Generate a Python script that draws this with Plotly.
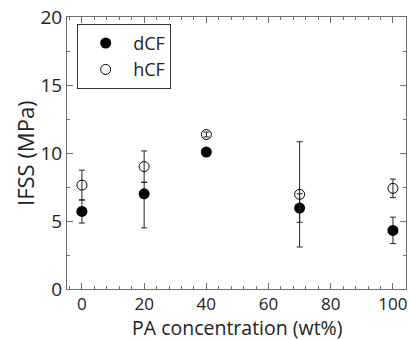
import plotly.graph_objects as go

x_conc = [0, 20, 40, 70, 100]
dcf_mean = [5.7, 7.0, 10.07, 5.95, 4.31]
dcf_err_plus = [0.85, 0.85, 0.12, 1.05, 0.97]
dcf_err_minus = [0.85, 2.5, 0.12, 1.05, 0.97]
hcf_mean = [7.64, 9.0, 11.36, 6.96, 7.40]
hcf_err = [1.1, 1.15, 0.18, 3.87, 0.68]

x_title = "PA concentration (wt%)"
y_title = "IFSS (MPa)"

font_family = "Open Sans, Noto Sans, sans-serif"
axis_col = "#6e6e6e"

fig = go.Figure()
fig.add_trace(go.Scatter(
    x=x_conc, y=dcf_mean, mode="markers", name="dCF",
    marker=dict(symbol="circle", size=11, color="black", line=dict(width=0)),
    error_y=dict(type="data", symmetric=False, array=dcf_err_plus,
                 arrayminus=dcf_err_minus, color="#222", thickness=1, width=3),
))
fig.add_trace(go.Scatter(
    x=x_conc, y=hcf_mean, mode="markers", name="hCF",
    marker=dict(symbol="circle-open", size=10, color="black", line=dict(width=1)),
    error_y=dict(type="data", array=hcf_err, color="#222", thickness=1, width=3),
))

fig.update_layout(
    width=410, height=340,
    margin=dict(l=67, r=4, t=17, b=51),
    paper_bgcolor="white", plot_bgcolor="white",
    font=dict(family=font_family, color="#222", size=18),
    showlegend=True,
    legend=dict(x=0.03, y=0.975, xanchor="left", yanchor="top",
                bordercolor="#333", borderwidth=1, bgcolor="white",
                font=dict(size=18, color="#222"), itemwidth=45,
                tracegroupgap=2),
    annotations=[
        dict(text=x_title, xref="paper", yref="paper", x=0.5, y=-0.14,
             xanchor="center", yanchor="middle", showarrow=False, borderpad=0,
             font=dict(size=19.5, color="#222")),
        dict(text=y_title, xref="paper", yref="paper", x=-0.124, y=0.5,
             xanchor="center", yanchor="middle", showarrow=False, textangle=-90,
             font=dict(size=22, color="#222")),
    ],
)
fig.update_xaxes(
    range=[-4.8, 104.2], tickvals=[0, 20, 40, 60, 80, 100],
    showgrid=False, zeroline=False, automargin=False,
    showline=True, linecolor=axis_col, linewidth=1, mirror="ticks",
    ticks="inside", ticklen=6, tickcolor=axis_col, tickwidth=1,
    minor=dict(dtick=4, tick0=0, ticks="inside", ticklen=3, tickcolor=axis_col, showgrid=False),
    tickfont=dict(size=17),
)
fig.update_yaxes(
    range=[0, 20], tickvals=[0, 5, 10, 15, 20],
    showgrid=False, zeroline=False, automargin=False,
    showline=True, linecolor=axis_col, linewidth=1, mirror="ticks",
    ticks="inside", ticklen=6, tickcolor=axis_col, tickwidth=1,
    minor=dict(dtick=2.5, tick0=0, ticks="inside", ticklen=3, tickcolor=axis_col, showgrid=False),
    tickfont=dict(size=19),
)
fig.write_html("out.html")
